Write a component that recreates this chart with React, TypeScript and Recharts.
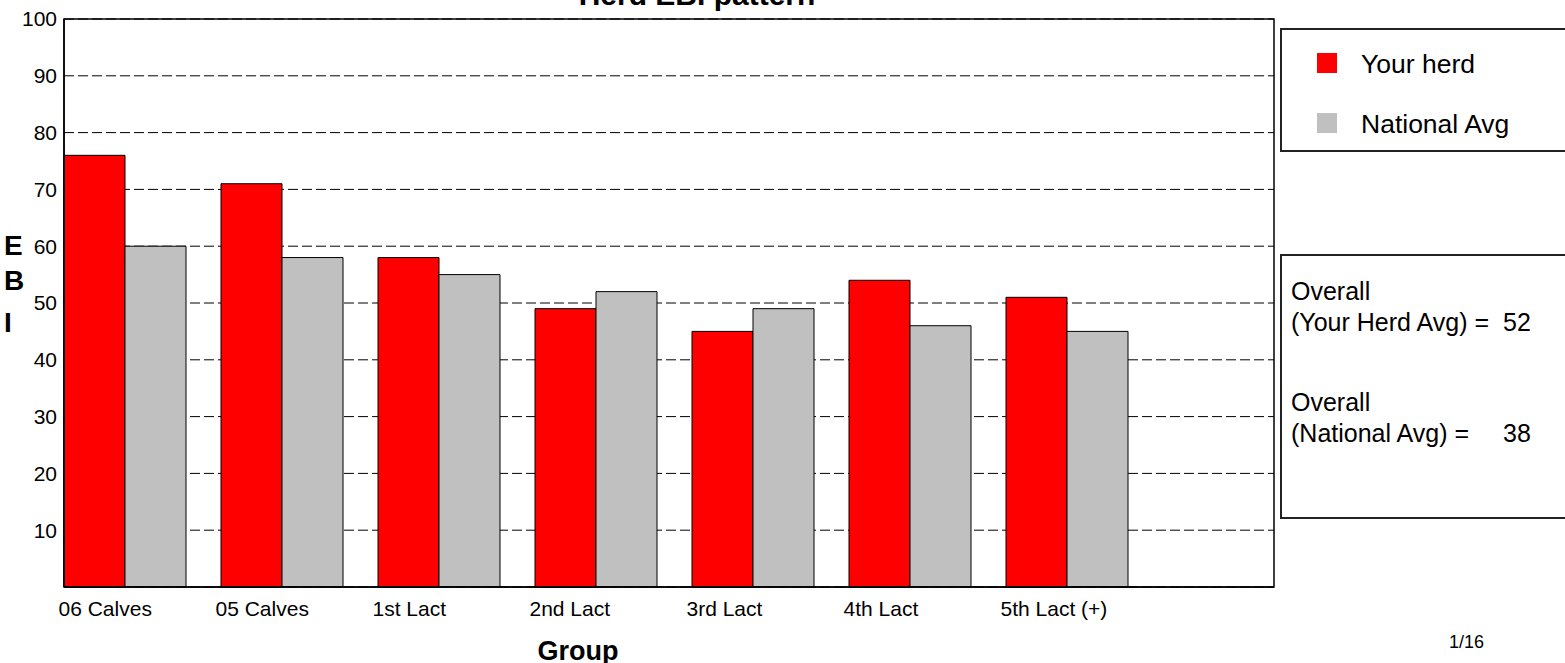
import { Bar, BarChart, CartesianGrid, XAxis, YAxis } from 'recharts'

const groups = ['06 Calves', '05 Calves', '1st Lact', '2nd Lact', '3rd Lact', '4th Lact', '5th Lact (+)']
const yourHerd = [76, 71, 58, 49, 45, 54, 51]
const nationalAvg = [60, 58, 55, 52, 49, 46, 45]
const yTicks = [10, 20, 30, 40, 50, 60, 70, 80, 90, 100]
const seriesNames = ['Your herd', 'National Avg']
const seriesColors = ['#ff0000', '#c0c0c0']
const overallHerd = 52
const overallNational = 38

const data = groups.map((group, i) => ({
  group,
  herd: yourHerd[i],
  national: nationalAvg[i],
}))

const FONT = '"Liberation Sans", Arial, sans-serif'

function GroupTick(props: any) {
  const { x, y, payload } = props
  return (
    <text x={x - 66} y={y + 29} textAnchor="start" fontSize={21} fontFamily={FONT} fill="#000">
      {payload.value}
    </text>
  )
}

export default function App() {
  return (
    <div style={{ position: 'absolute', left: 0, top: 0, width: 1565, height: 663, background: '#fff' }}>
      <BarChart
        width={1565}
        height={663}
        data={data}
        margin={{ top: 19, right: 291, bottom: 0, left: 4 }}
        barCategoryGap={18}
        barGap={0}
      >
        <CartesianGrid vertical={false} stroke="#000" strokeDasharray="10 4" />
        <XAxis
          dataKey="group"
          height={76}
          padding={{ left: -18, right: 129 }}
          axisLine={{ stroke: '#000', strokeWidth: 1.5 }}
          tickLine={false}
          tickSize={0}
          tickMargin={0}
          tick={<GroupTick />}
          interval={0}
        />
        <YAxis
          width={60}
          domain={[0, 100]}
          ticks={yTicks}
          axisLine={{ stroke: '#000', strokeWidth: 1.5 }}
          tickLine={false}
          tickSize={0}
          tickMargin={7}
          tick={{ fill: '#000', fontSize: 21, fontFamily: FONT }}
        />
        <Bar dataKey="herd" name={seriesNames[0]} fill={seriesColors[0]} stroke="#000" strokeWidth={1} isAnimationActive={false} />
        <Bar dataKey="national" name={seriesNames[1]} fill={seriesColors[1]} stroke="#000" strokeWidth={1} isAnimationActive={false} />
      </BarChart>

      <svg
        width={1565}
        height={663}
        style={{ position: 'absolute', left: 0, top: 0, pointerEvents: 'none' }}
        fontFamily={FONT}
      >
        {/* plot frame */}
        <rect x={64} y={19} width={1210} height={568} fill="none" stroke="#000" strokeWidth={1.5} />

        <text x={697} y={5} textAnchor="middle" fontSize={30} fontWeight="bold">Herd EBI pattern</text>

        <text x={4} y={255} fontSize={28} fontWeight="bold">E</text>
        <text x={4} y={290} fontSize={28} fontWeight="bold">B</text>
        <text x={4} y={332} fontSize={28} fontWeight="bold">I</text>

        <text x={578} y={660} textAnchor="middle" fontSize={27} fontWeight="bold">Group</text>
        <text x={1449} y={648} fontSize={18}>1/16</text>

        {/* legend */}
        <rect x={1281} y={29} width={300} height={122} fill="#fff" stroke="#222" strokeWidth={2} />
        {seriesNames.map((name, i) => (
          <g key={name}>
            <rect x={1317} y={53 + i * 60} width={20} height={20} fill={seriesColors[i]} />
            <text x={1361} y={73 + i * 60} fontSize={26.5}>{name}</text>
          </g>
        ))}

        {/* overall box */}
        <rect x={1281} y={255} width={300} height={263} fill="#fff" stroke="#222" strokeWidth={2} />
        <text x={1291} y={300} fontSize={25}>Overall</text>
        <text x={1291} y={331} fontSize={25}>(Your Herd Avg) =</text>
        <text x={1503} y={331} fontSize={25}>{overallHerd}</text>
        <text x={1291} y={411} fontSize={25}>Overall</text>
        <text x={1291} y={442} fontSize={25}>(National Avg) =</text>
        <text x={1503} y={442} fontSize={25}>{overallNational}</text>
      </svg>
    </div>
  )
}
